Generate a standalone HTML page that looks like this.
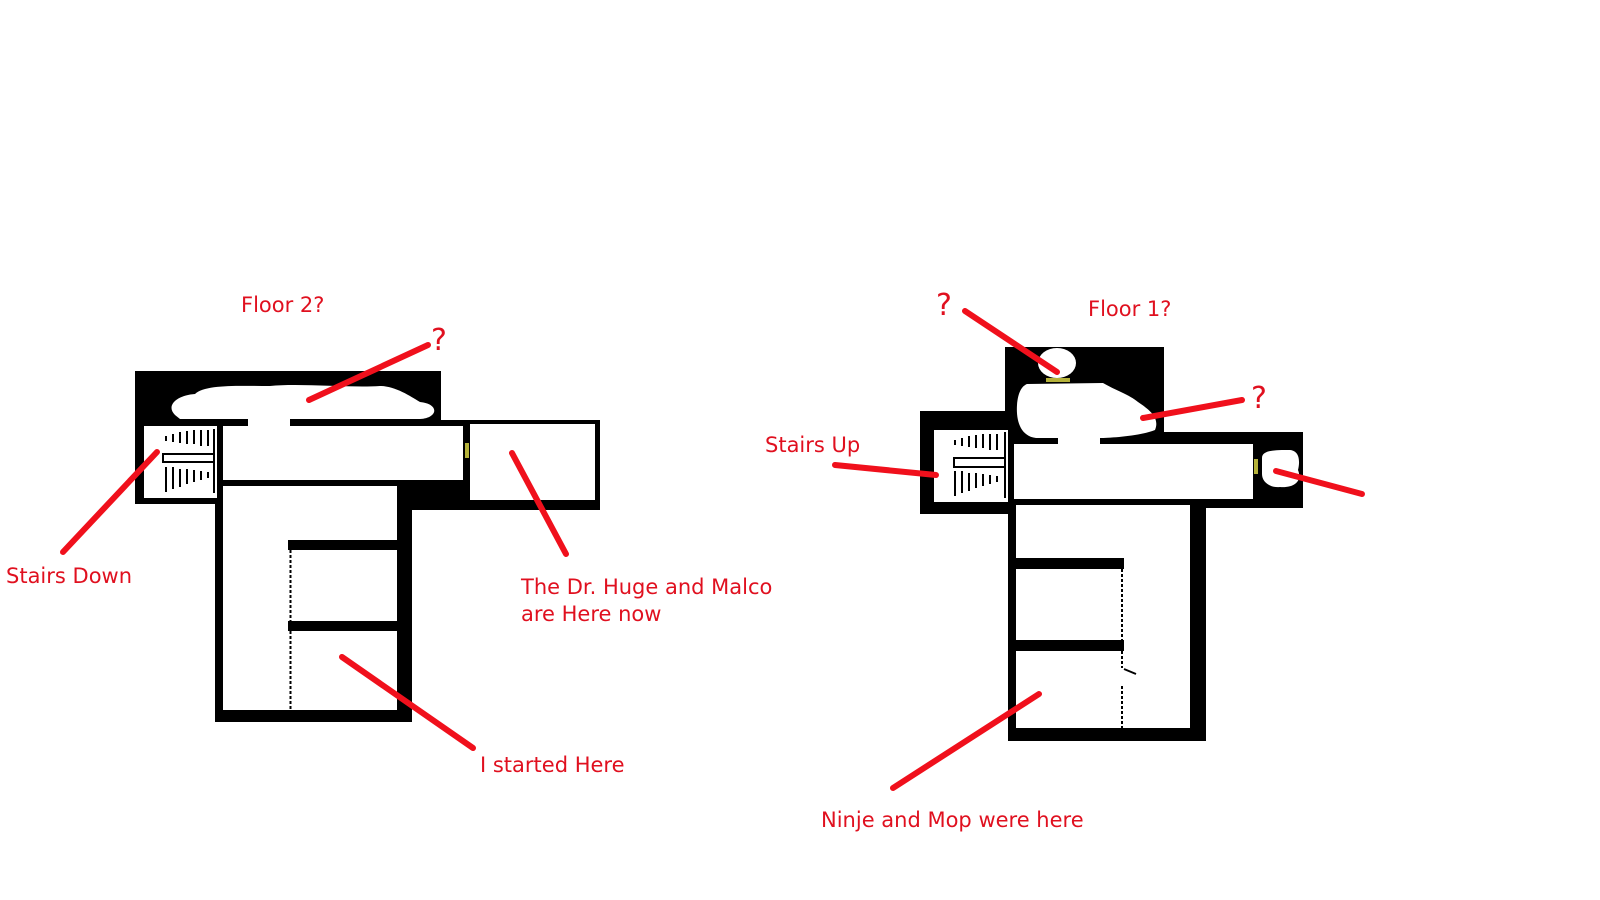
<!DOCTYPE html>
<html><head><meta charset="utf-8"><style>
html,body{margin:0;padding:0;background:#fff;width:1600px;height:900px;overflow:hidden}
svg{display:block}
text{font-family:"DejaVu Sans","Liberation Sans",sans-serif;fill:#e0101f;font-size:21px}
</style></head><body>
<svg width="1600" height="900" viewBox="0 0 1600 900" xmlns="http://www.w3.org/2000/svg">
<!-- LEFT MAP -->
<g>
<rect x="135" y="371" width="306" height="55" fill="#000"/>
<rect x="135" y="420" width="88" height="84" fill="#000"/>
<rect x="215" y="420" width="385" height="90" fill="#000"/>
<rect x="215" y="480" width="197" height="242" fill="#000"/>
<!-- cloud -->
<path d="M175,415 C165,405 178,395 195,394 C205,384 240,386 270,386 C300,383 350,388 380,386 C395,386 410,396 420,402 C440,404 438,418 420,419 L180,419 Z" fill="#fff"/>
<rect x="248" y="415" width="42" height="12" fill="#fff"/>
<rect x="144" y="426" width="73" height="72" fill="#fff"/>
<rect x="223" y="426" width="240" height="54" fill="#fff"/>
<rect x="470" y="424" width="125" height="76" fill="#fff"/>
<rect x="465" y="443" width="4" height="15" fill="#b5b23a"/>
<rect x="223" y="486" width="174" height="224" fill="#fff"/>
<rect x="288" y="540" width="110" height="10" fill="#000"/>
<rect x="288" y="621" width="110" height="10" fill="#000"/>
<line x1="290.5" y1="550" x2="290.5" y2="621" stroke="#000" stroke-width="2" stroke-dasharray="3,2"/>
<line x1="290.5" y1="631" x2="290.5" y2="710" stroke="#000" stroke-width="2" stroke-dasharray="3,2"/>
<!-- stairs -->
<g fill="#000">
<rect x="213" y="429" width="2" height="64"/>
<rect x="165" y="436" width="2" height="5"/><rect x="172" y="434" width="2" height="8"/><rect x="179" y="432" width="2" height="11"/><rect x="186" y="431" width="2" height="13"/><rect x="193" y="430" width="2" height="14"/><rect x="200" y="430" width="2" height="16"/><rect x="207" y="430" width="2" height="16"/>
<rect x="162" y="453" width="52" height="2"/><rect x="162" y="453" width="2" height="10"/><rect x="162" y="461" width="52" height="2"/>
<rect x="165" y="467" width="2" height="25"/><rect x="172" y="467" width="2" height="22"/><rect x="179" y="469" width="2" height="18"/><rect x="186" y="469" width="2" height="15"/><rect x="193" y="470" width="2" height="12"/><rect x="200" y="471" width="2" height="9"/><rect x="207" y="472" width="2" height="6"/>
</g>
</g>
<!-- RIGHT MAP -->
<g>
<rect x="1005" y="347" width="159" height="98" fill="#000"/>
<rect x="920" y="411" width="94" height="103" fill="#000"/>
<rect x="1005" y="432" width="298" height="76" fill="#000"/>
<rect x="1008" y="499" width="198" height="242" fill="#000"/>
<ellipse cx="1057" cy="363" rx="19" ry="15" fill="#fff"/>
<rect x="1046" y="378" width="24" height="4" fill="#b5b23a"/>
<path d="M1027,384 L1103,383 C1115,390 1130,395 1138,402 C1150,410 1160,418 1155,430 C1140,436 1110,438 1100,438 L1036,438 C1020,436 1016,420 1017,405 C1018,392 1022,386 1027,384 Z" fill="#fff"/>
<rect x="1058" y="430" width="42" height="15" fill="#fff"/>
<rect x="934" y="430" width="74" height="72" fill="#fff"/>
<rect x="1014" y="444" width="239" height="55" fill="#fff"/>
<rect x="1254" y="459" width="4" height="15" fill="#b5b23a"/>
<path d="M1262,458 C1262,450 1275,450 1290,450 C1300,451 1300,462 1298,470 C1302,480 1296,488 1280,487 C1270,488 1262,482 1262,474 Z" fill="#fff"/>
<rect x="1016" y="505" width="174" height="223" fill="#fff"/>
<rect x="1015" y="558" width="109" height="11" fill="#000"/>
<rect x="1015" y="640" width="109" height="11" fill="#000"/>
<line x1="1122" y1="569" x2="1122" y2="640" stroke="#000" stroke-width="2" stroke-dasharray="3,2"/>
<line x1="1122" y1="651" x2="1122" y2="668" stroke="#000" stroke-width="2" stroke-dasharray="3,2"/>
<line x1="1122" y1="686" x2="1122" y2="728" stroke="#000" stroke-width="2" stroke-dasharray="3,2"/>
<line x1="1124" y1="669" x2="1136" y2="674" stroke="#000" stroke-width="2"/>
<g fill="#000">
<rect x="1004" y="432" width="2" height="66"/>
<rect x="954" y="440" width="2" height="5"/><rect x="961" y="438" width="2" height="8"/><rect x="968" y="436" width="2" height="11"/><rect x="975" y="435" width="2" height="13"/><rect x="982" y="434" width="2" height="14"/><rect x="989" y="434" width="2" height="16"/><rect x="996" y="434" width="2" height="16"/>
<rect x="953" y="457" width="53" height="2"/><rect x="953" y="457" width="2" height="11"/><rect x="953" y="466" width="53" height="2"/>
<rect x="954" y="471" width="2" height="25"/><rect x="961" y="471" width="2" height="22"/><rect x="968" y="473" width="2" height="18"/><rect x="975" y="473" width="2" height="15"/><rect x="982" y="474" width="2" height="12"/><rect x="989" y="475" width="2" height="9"/><rect x="996" y="476" width="2" height="6"/>
</g>
</g>
<!-- red lines -->
<g stroke="#f0101c" stroke-width="6" stroke-linecap="round">
<line x1="63" y1="552" x2="157" y2="452"/>
<line x1="309" y1="400" x2="428" y2="345"/>
<line x1="512" y1="453" x2="566" y2="554"/>
<line x1="342" y1="657" x2="473" y2="748"/>
<line x1="965" y1="311" x2="1057" y2="372"/>
<line x1="1143" y1="418" x2="1242" y2="400"/>
<line x1="835" y1="465" x2="936" y2="475"/>
<line x1="1276" y1="471" x2="1362" y2="494"/>
<line x1="893" y1="788" x2="1039" y2="694"/>
</g>
<!-- labels -->
<text x="241" y="312">Floor 2?</text>
<text x="431" y="350" style="font-size:30px">?</text>
<text x="6" y="583">Stairs Down</text>
<text x="521" y="594">The Dr. Huge and Malco</text>
<text x="521" y="621">are Here now</text>
<text x="480" y="772">I started Here</text>
<text x="936" y="315" style="font-size:30px">?</text>
<text x="1088" y="316">Floor 1?</text>
<text x="1251" y="408" style="font-size:30px">?</text>
<text x="765" y="452">Stairs Up</text>
<text x="821" y="827">Ninje and Mop were here</text>
</svg>
</body></html>
